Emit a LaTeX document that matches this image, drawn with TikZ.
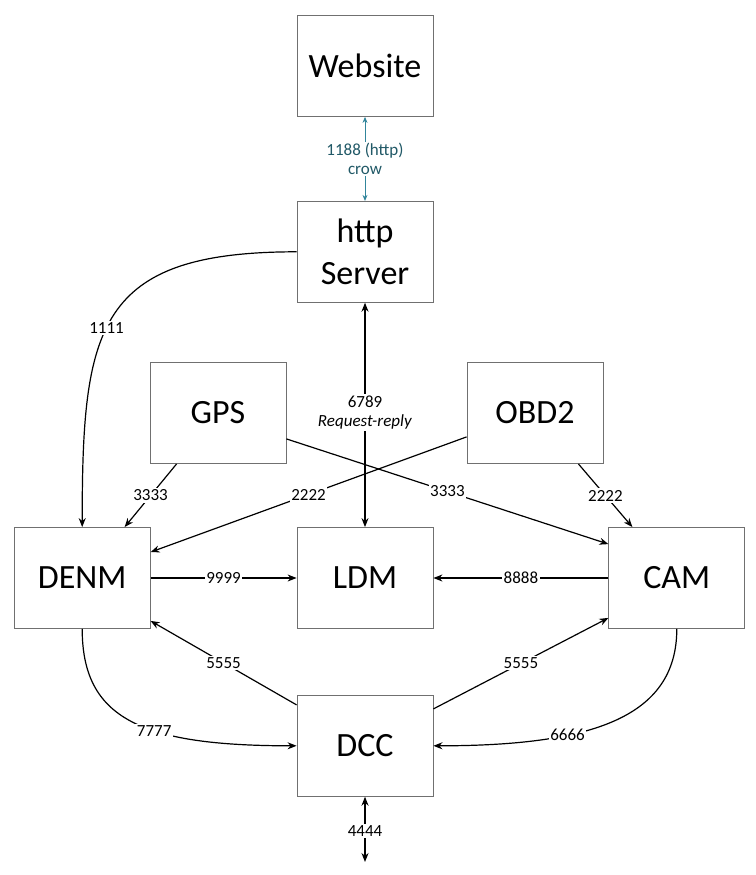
\documentclass[tikz,border=0pt]{standalone}
\usepackage{fontspec}
\setmainfont{Carlito}
\usepackage{tikz}
\usetikzlibrary{arrows.meta}
\usetikzlibrary{positioning}
\definecolor{boxgray}{RGB}{112,112,112}
\definecolor{webline}{RGB}{49,133,155}
\definecolor{webtext}{RGB}{33,89,103}
\def\portfont{\fontsize{17}{19}\selectfont}

\begin{document}
\begin{tikzpicture}[x=1pt,y=-1pt,>={Stealth[length=9pt,width=7pt]},
					box/.style={draw=boxgray,line width=0.8pt,minimum width=136pt,minimum height=101pt,
						align=center,font=\fontsize{34}{42}\selectfont},
					link/.style={line width=1.2pt},
					port/.style={fill=white,inner sep=1.5pt,align=center,font=\portfont}]
					\useasboundingbox (0,0) rectangle (755,875);
					
					\node[box]				  (web)  at (365,66)		{Website};
					\node[box,below=84pt of web]  (http)				{http\\Server};
					\node[box]				  (ldm)  at (365,578)		{LDM};
					\node[box,left=146pt of ldm]  (denm)				{DENM};
					\node[box,right=175pt of ldm] (cam)				{CAM};
					\node[box]				  (gps)  at (218,413)		{GPS};
					\node[box]				  (obd)  at (535,413)		{OBD2};
					\node[box,below=66pt of ldm]  (dcc)				{DCC};
					\coordinate (ext) at (365,862);
					
					% website <-> server
					\draw[<->,>={Stealth[length=6pt,width=5pt]},webline,line width=0.8pt] (web) -- (http)
						node[port,midway,text=webtext] {1188 (http)\\crow};
					
					\draw[->,link] (http.west) .. controls +(-200,0) and +(0,-200) .. (denm.north)
						node[port,pos=0.55] {1111};
					\draw[<->,link] (http) -- (ldm)
						node[port,pos=0.49] {6789\\\textit{Request-reply}};
					
					% sensors
					\draw[->,link] ([xshift=27pt]gps.south west) -- ([xshift=-26pt]denm.north east)
						node[port,midway] {3333};
					\draw[->,link] ([yshift=25pt]gps.south east) -- ([yshift=-17pt]cam.north west)
						node[port,midway] {3333};
					\draw[->,link] ([yshift=27pt]obd.south west) -- ([yshift=-25pt]denm.north east)
						node[port,midway] {2222};
					\draw[->,link] ([xshift=-25pt]obd.south east) -- ([xshift=24pt]cam.north west)
						node[port,midway] {2222};
					
					\draw[->,link] (denm) -- (ldm) node[port,midway] {9999};
					\draw[->,link] (cam) -- (ldm) node[port,midway] {8888};
					
					% dcc
					\draw[->,link] ([yshift=-10pt]dcc.north west) -- ([yshift=8pt]denm.south east)
						node[port,midway] {5555};
					\draw[->,link] ([yshift=-14pt]dcc.north east) -- ([yshift=11pt]cam.south west)
						node[port,midway] {5555};
					\draw[->,link] (denm.south) .. controls +(0,90) and +(-155,0) .. (dcc.west)
						node[port,pos=0.6] {7777};
					\draw[->,link] (cam.south) .. controls +(0,90) and +(155,0) .. (dcc.east)
						node[port,pos=0.66] {6666};
					\draw[<->,link] (dcc) -- (ext) node[port,pos=0.52] {4444};
\end{tikzpicture}
\end{document}
